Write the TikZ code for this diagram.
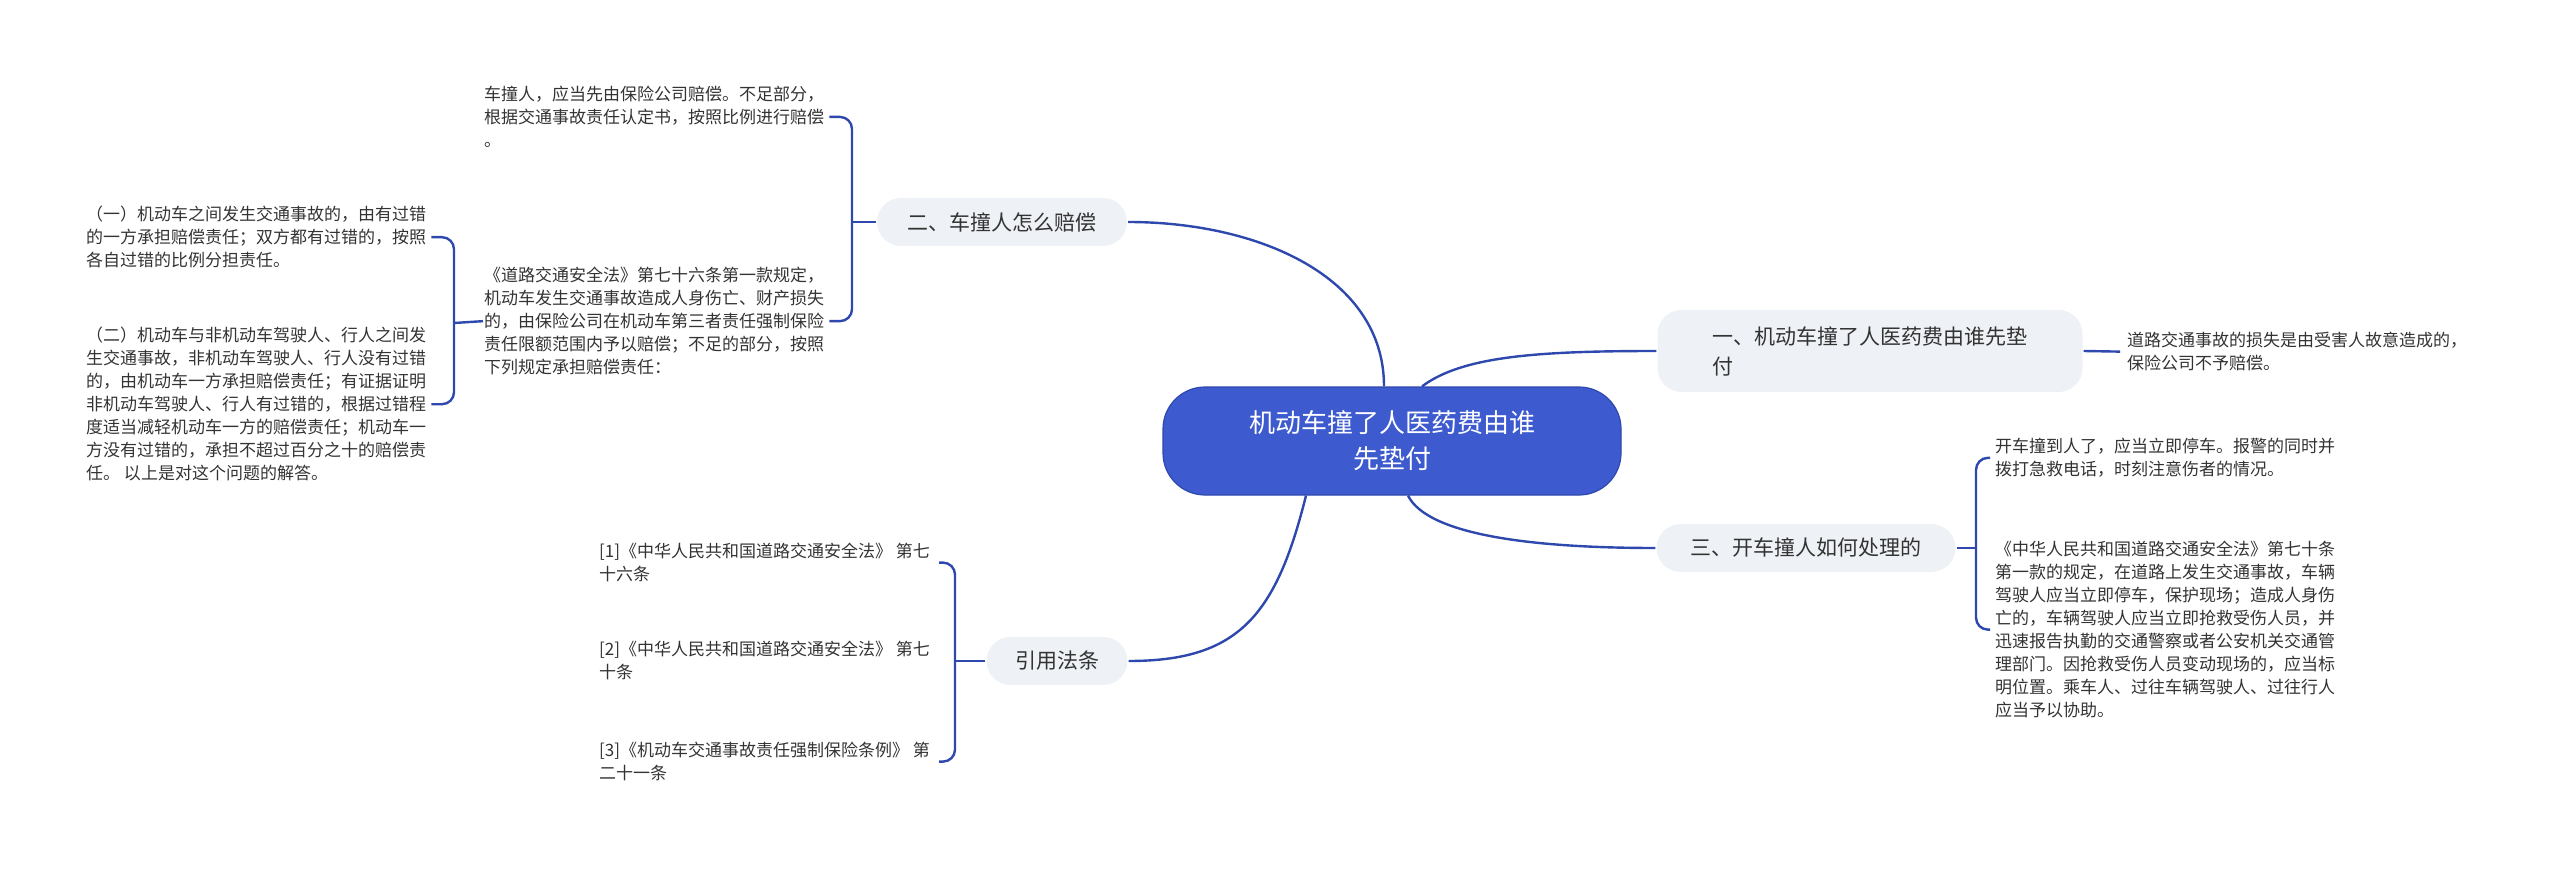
\documentclass[tikz,border=0pt]{standalone}
\usepackage{fontspec}
\setmainfont{Noto Sans CJK SC}
\definecolor{rootblue}{HTML}{3D5BCF}
\definecolor{linkblue}{HTML}{2E48AE}
\definecolor{topicgray}{HTML}{EEF1F5}
\definecolor{inkgray}{HTML}{333333}
\tikzset{every picture/.style={line width=2.4pt}}
\tikzset{
  rootbox/.style={draw=linkblue,line width=1.2pt,fill=rootblue,rounded corners=42,text=white,
    font=\fontsize{26}{36}\selectfont,align=center,minimum width=458,minimum height=108},
  topicbox/.style={fill=topicgray,rounded corners=24,text=inkgray,
    font=\fontsize{21}{30}\selectfont,minimum height=48},
  leaf/.style={text=inkgray,inner sep=0pt,font=\fontsize{17}{23}\selectfont,align=left},
  link/.style={draw=linkblue,line width=2.4pt},
  brace/.style={link,rounded corners=12}
}
\begin{document}
\begin{tikzpicture}[x=1pt,y=1pt,yscale=-1,xscale=1]
\useasboundingbox (0,0) rectangle (2560,869);

% Topic Nodes
\node[rootbox] (root) at (1392,441) {机动车撞了人医药费由谁\\先垫付};
\node[topicbox,minimum width=250] (pay) at (1002,222) {二、车撞人怎么赔偿};
\node[topicbox,minimum width=425,minimum height=82,align=left] (fee) at (1870,351) {一、机动车撞了人医药费由谁先垫\\付\hspace*{13.3em}};
\node[topicbox,minimum width=299] (handle) at (1806,548) {三、开车撞人如何处理的};
\node[topicbox,minimum width=141] (laws) at (1057,661) {引用法条};

% Leaf Nodes
\node[leaf,anchor=north west] (payA) at (483,85) {车撞人，应当先由保险公司赔偿。不足部分，\\根据交通事故责任认定书，按照比例进行赔偿\\。};
\node[leaf,anchor=north west] (payB) at (483,266) {《道路交通安全法》第七十六条第一款规定，\\机动车发生交通事故造成人身伤亡、财产损失\\的，由保险公司在机动车第三者责任强制保险\\责任限额范围内予以赔偿；不足的部分，按照\\下列规定承担赔偿责任：};
\node[leaf,anchor=north west] (ruleA) at (85,205) {（一）机动车之间发生交通事故的，由有过错\\的一方承担赔偿责任；双方都有过错的，按照\\各自过错的比例分担责任。};
\node[leaf,anchor=north west] (ruleB) at (85,326) {（二）机动车与非机动车驾驶人、行人之间发\\生交通事故，非机动车驾驶人、行人没有过错\\的，由机动车一方承担赔偿责任；有证据证明\\非机动车驾驶人、行人有过错的，根据过错程\\度适当减轻机动车一方的赔偿责任；机动车一\\方没有过错的，承担不超过百分之十的赔偿责\\任。 以上是对这个问题的解答。};
\node[leaf,anchor=north west] (feeA) at (2126,331) {道路交通事故的损失是由受害人故意造成的，\\保险公司不予赔偿。};
\node[leaf,anchor=north west] (handleA) at (1994,437) {开车撞到人了，应当立即停车。报警的同时并\\拨打急救电话，时刻注意伤者的情况。};
\node[leaf,anchor=north west] (handleB) at (1994,540) {《中华人民共和国道路交通安全法》第七十条\\第一款的规定，在道路上发生交通事故，车辆\\驾驶人应当立即停车，保护现场；造成人身伤\\亡的，车辆驾驶人应当立即抢救受伤人员，并\\迅速报告执勤的交通警察或者公安机关交通管\\理部门。因抢救受伤人员变动现场的，应当标\\明位置。乘车人、过往车辆驾驶人、过往行人\\应当予以协助。};
\node[leaf,anchor=north west] (lawA) at (598,542) {[1]《中华人民共和国道路交通安全法》 第七\\十六条};
\node[leaf,anchor=north west] (lawB) at (598,640) {[2]《中华人民共和国道路交通安全法》 第七\\十条};
\node[leaf,anchor=north west] (lawC) at (598,741) {[3]《机动车交通事故责任强制保险条例》 第\\二十一条};

% Root Links
\draw[link] ([xshift=-8]root.north) .. controls +(0,-110) and +(130,0) .. (pay.east);
\draw[link] ([xshift=30]root.north) .. controls +(40,-30) and +(-120,0) .. (fee.west);
\draw[link] ([xshift=16]root.south) .. controls +(20,40) and +(-120,0) .. (handle.west);
\draw[link] ([xshift=-86]root.south) .. controls +(-30,120) and +(110,0) .. (laws.east);

% Brackets
\coordinate (payJ) at (852,222);
\draw[link] (pay.west) -- (payJ);
\draw[brace] (payJ) |- ([xshift=4]payA.east);
\draw[brace] (payJ) |- ([xshift=4]payB.east);
\coordinate (ruleJ) at (454,323);
\draw[link] (payB.west) -- (ruleJ);
\draw[brace] (ruleJ) |- ([xshift=4]ruleA.east);
\draw[brace] (ruleJ) |- ([xshift=4]ruleB.east);
\draw[link] (fee.east) -- ([xshift=-6]feeA.west);
\coordinate (handleJ) at (1976,548);
\draw[link] (handle.east) -- (handleJ);
\draw[brace] (handleJ) |- ([xshift=-4]handleA.west);
\draw[brace] (handleJ) |- ([xshift=-4]handleB.west);
\coordinate (lawJ) at (955,661);
\draw[link] (laws.west) -- (lawJ);
\draw[brace] (lawJ) |- ([xshift=8]lawA.east);
\draw[brace] (lawJ) |- ([xshift=8]lawC.east);
\end{tikzpicture}
\end{document}
